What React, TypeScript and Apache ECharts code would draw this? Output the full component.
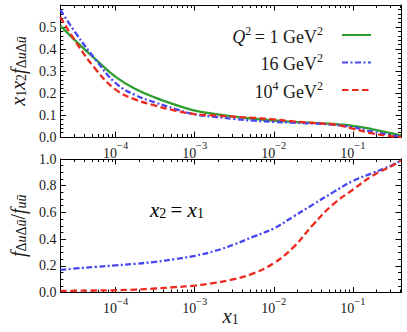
import React, { useEffect, useRef } from 'react';
import * as echarts from 'echarts';

// ---------- data ----------
const X_MIN = 2e-5;
const X_MAX = 0.407;

const NAME_Q1 = 'Q² = 1 GeV²';
const NAME_Q16 = '16 GeV²';
const NAME_Q1E4 = '10⁴ GeV²';

// x1 sample points (x2 = x1)
const xs = [2e-5, 3.16e-5, 5.62e-5, 1e-4, 1.78e-4, 3.16e-4, 5.62e-4, 1e-3, 1.78e-3, 3.16e-3, 5.62e-3, 1e-2, 1.78e-2, 3.16e-2, 5.62e-2, 0.1, 0.178, 0.316, 0.407];

// top panel: x1 x2 f_{ΔuΔū}
const topQ1 = [0.505, 0.435, 0.352, 0.273, 0.218, 0.179, 0.147, 0.12, 0.105, 0.093, 0.083, 0.075, 0.069, 0.064, 0.059, 0.051, 0.035, 0.016, 0.006];
const topQ16 = [0.578, 0.47, 0.35, 0.245, 0.19, 0.157, 0.128, 0.103, 0.092, 0.082, 0.074, 0.069, 0.065, 0.061, 0.056, 0.044, 0.024, 0.008, 0.003];
const topQ1e4 = [0.545, 0.43, 0.307, 0.215, 0.17, 0.143, 0.12, 0.104, 0.098, 0.092, 0.087, 0.08, 0.071, 0.064, 0.057, 0.038, 0.016, 0.003, 0.0];

// bottom panel: ratio f_{ΔuΔū}/f_{uū}
const botQ16 = [0.17, 0.18, 0.192, 0.203, 0.215, 0.23, 0.25, 0.275, 0.31, 0.36, 0.42, 0.48, 0.57, 0.66, 0.75, 0.835, 0.895, 0.955, 0.99];
const botQ1e4 = [0.012, 0.013, 0.015, 0.017, 0.022, 0.03, 0.04, 0.052, 0.072, 0.1, 0.145, 0.22, 0.34, 0.51, 0.66, 0.77, 0.875, 0.95, 0.99];

const X_MAJOR = [1e-4, 1e-3, 1e-2, 1e-1];
const TOP_Y_LABELS = [0, 0.1, 0.2, 0.3, 0.4, 0.5];
const BOT_Y_LABELS = [0, 0.2, 0.4, 0.6, 0.8, 1.0];

// ---------- style ----------
const FONT = "'Liberation Serif', 'DejaVu Serif', serif";
const TXT = '#1a1a1a';
const C_GREEN = '#2f9e2f';
const C_BLUE = '#4646f2';
const C_RED = '#ee2a1e';

const LMIN = Math.log10(X_MIN);
const LMAX = Math.log10(X_MAX);

const majorL = X_MAJOR.map((v) => Math.log10(v));
const minorL: number[] = [];
for (let n = -5; n <= -1; n++) {
  for (let k = 2; k <= 9; k++) {
    const v = Math.log10(k * Math.pow(10, n));
    if (v > LMIN && v < LMAX) minorL.push(v);
  }
}

const pts = (ys: number[]) => xs.map((x, i) => [Math.log10(x), ys[i]]);

const tickRich = {
  b: { fontFamily: FONT, fontSize: 14, color: TXT, lineHeight: 20, verticalAlign: 'bottom' },
  sup: { fontFamily: FONT, fontSize: 10.5, color: TXT, lineHeight: 10, verticalAlign: 'top' },
};

const mathRich = (big: number, small: number) => ({
  i: { fontFamily: FONT, fontSize: big, fontStyle: 'italic', color: TXT, lineHeight: big + 4, verticalAlign: 'bottom' },
  n: { fontFamily: FONT, fontSize: big, color: TXT, lineHeight: big + 4, verticalAlign: 'bottom' },
  sub: { fontFamily: FONT, fontSize: small, color: TXT, lineHeight: small + 1, verticalAlign: 'bottom' },
  subi: { fontFamily: FONT, fontSize: small, fontStyle: 'italic', color: TXT, lineHeight: small + 1, verticalAlign: 'bottom' },
});
const titleRich = mathRich(20, 14);
const annRich = mathRich(21, 14);

const legRich = {
  i: { fontFamily: FONT, fontSize: 18, fontStyle: 'italic', color: TXT, lineHeight: 21, verticalAlign: 'bottom' },
  n: { fontFamily: FONT, fontSize: 18, color: TXT, lineHeight: 21, verticalAlign: 'bottom' },
  sup: { fontFamily: FONT, fontSize: 12, color: TXT, lineHeight: 11, verticalAlign: 'top' },
};
const LEG_TEXT: Record<string, string> = {
  [NAME_Q1]: '{i|Q}{sup|2}{n|\u2009= 1 GeV}{sup|2}',
  [NAME_Q16]: '{n|16 GeV}{sup|2}',
  [NAME_Q1E4]: '{n|10}{sup|4}{n| GeV}{sup|2}',
};

function xAxes(gridIndex: number, name?: string) {
  const base = {
    type: 'value',
    gridIndex,
    min: LMIN,
    max: LMAX,
    splitLine: { show: false },
  };
  return [
    {
      ...base,
      position: 'bottom',
      name: name || '',
      nameLocation: 'middle',
      nameGap: 9,
      nameMoveOverlap: false,
      nameTextStyle: { rich: annRich },
      axisLine: { show: true, onZero: false, lineStyle: { color: '#000', width: 1 } },
      axisTick: { show: true, inside: true, length: 5.5, customValues: majorL, lineStyle: { color: '#000' } },
      axisLabel: {
        show: true,
        customValues: majorL,
        margin: 3,
        formatter: (v: number) => `{b|10}{sup|−${Math.round(-v)}}`,
        rich: tickRich,
      },
    },
    {
      ...base,
      position: 'bottom',
      axisLine: { show: false, onZero: false },
      axisTick: { show: true, inside: true, length: 3, customValues: minorL, lineStyle: { color: '#000' } },
      axisLabel: { show: false },
    },
    {
      ...base,
      position: 'top',
      axisLine: { show: true, onZero: false, lineStyle: { color: '#000', width: 1 } },
      axisTick: { show: true, inside: true, length: 5.5, customValues: majorL, lineStyle: { color: '#000' } },
      axisLabel: { show: false },
    },
    {
      ...base,
      position: 'top',
      axisLine: { show: false, onZero: false },
      axisTick: { show: true, inside: true, length: 3, customValues: minorL, lineStyle: { color: '#000' } },
      axisLabel: { show: false },
    },
  ];
}

function yAxes(gridIndex: number, max: number, interval: number, minorSplit: number, labels: number[], name: string) {
  const base = {
    type: 'value',
    gridIndex,
    min: 0,
    max,
    interval,
    splitLine: { show: false },
    axisLine: { show: true, onZero: false, lineStyle: { color: '#000', width: 1 } },
    axisTick: { show: true, inside: true, length: 5.5, lineStyle: { color: '#000' } },
    minorTick: { show: true, splitNumber: minorSplit, length: 3, lineStyle: { color: '#000' } },
  };
  return [
    {
      ...base,
      position: 'left',
      name,
      nameLocation: 'middle',
      nameRotate: 90,
      nameGap: 28,
      nameTextStyle: { rich: titleRich },
      axisLabel: {
        show: true,
        customValues: labels,
        margin: 4,
        fontFamily: FONT,
        fontSize: 14,
        color: TXT,
        formatter: (v: number) => v.toFixed(1),
      },
    },
    {
      ...base,
      position: 'right',
      axisLabel: { show: false },
    },
  ];
}

const lineSeries = (name: string, data: number[][], color: string, type: any, xi: number, yi: number) => ({
  type: 'line',
  name,
  data,
  xAxisIndex: xi,
  yAxisIndex: yi,
  showSymbol: false,
  symbol: 'none',
  smooth: 0.45,
  clip: true,
  lineStyle: { color, width: 2.3, type, cap: 'butt' },
  itemStyle: { color },
});

const DASH_BLUE = [6, 2.5, 2, 2.5];
const DASH_RED = [6.5, 3.5];

export default function App() {
  const ref = useRef<HTMLDivElement>(null);
  useEffect(() => {
    if (!ref.current) return;
    const chart = echarts.init(ref.current, undefined, { renderer: 'svg' });
    chart.setOption({
      animation: false,
      backgroundColor: '#fff',
      grid: [
        { left: 55, right: 6, top: 5, height: 132 },
        { left: 55, right: 6, top: 159, height: 133.5 },
      ],
      xAxis: [...xAxes(0), ...xAxes(1, '{i|x}{sub|1}')],
      yAxis: [
        ...yAxes(0, 0.6, 0.1, 5, TOP_Y_LABELS, '{i|x}{sub|1}{i|x}{sub|2}{i|f}{sub|Δ}{subi|u}{sub|Δ}{subi|ū}'),
        ...yAxes(1, 1.0, 0.2, 4, BOT_Y_LABELS, '{i|f}{sub|Δ}{subi|u}{sub|Δ}{subi|ū}{n|/}{i|f}{subi|uū}'),
      ],
      legend: {
        data: [NAME_Q1, NAME_Q16, NAME_Q1E4],
        orient: 'vertical',
        align: 'right',
        right: 30,
        top: 19.5,
        itemWidth: 29,
        itemHeight: 12,
        itemGap: 6.5,
        selectedMode: false,
        itemStyle: { opacity: 0 },
        formatter: (n: string) => LEG_TEXT[n],
        textStyle: { fontFamily: FONT, fontSize: 18, color: TXT, padding: [0, 14, 0, 0], rich: legRich },
      },
      graphic: [
        {
          type: 'text',
          left: 150,
          top: 199,
          style: {
            text: '{i|x}{sub|2}{n|\u2009= }{i|x}{sub|1}',
            rich: annRich,
          },
        },
      ],
      series: [
        lineSeries(NAME_Q1, pts(topQ1), C_GREEN, 'solid', 0, 0),
        lineSeries(NAME_Q16, pts(topQ16), C_BLUE, DASH_BLUE, 0, 0),
        lineSeries(NAME_Q1E4, pts(topQ1e4), C_RED, DASH_RED, 0, 0),
        lineSeries(NAME_Q16, pts(botQ16), C_BLUE, DASH_BLUE, 4, 2),
        lineSeries(NAME_Q1E4, pts(botQ1e4), C_RED, DASH_RED, 4, 2),
      ],
    });
    return () => chart.dispose();
  }, []);
  return <div ref={ref} style={{ width: 407, height: 332, position: 'absolute', left: 0, top: 0 }} />;
}
